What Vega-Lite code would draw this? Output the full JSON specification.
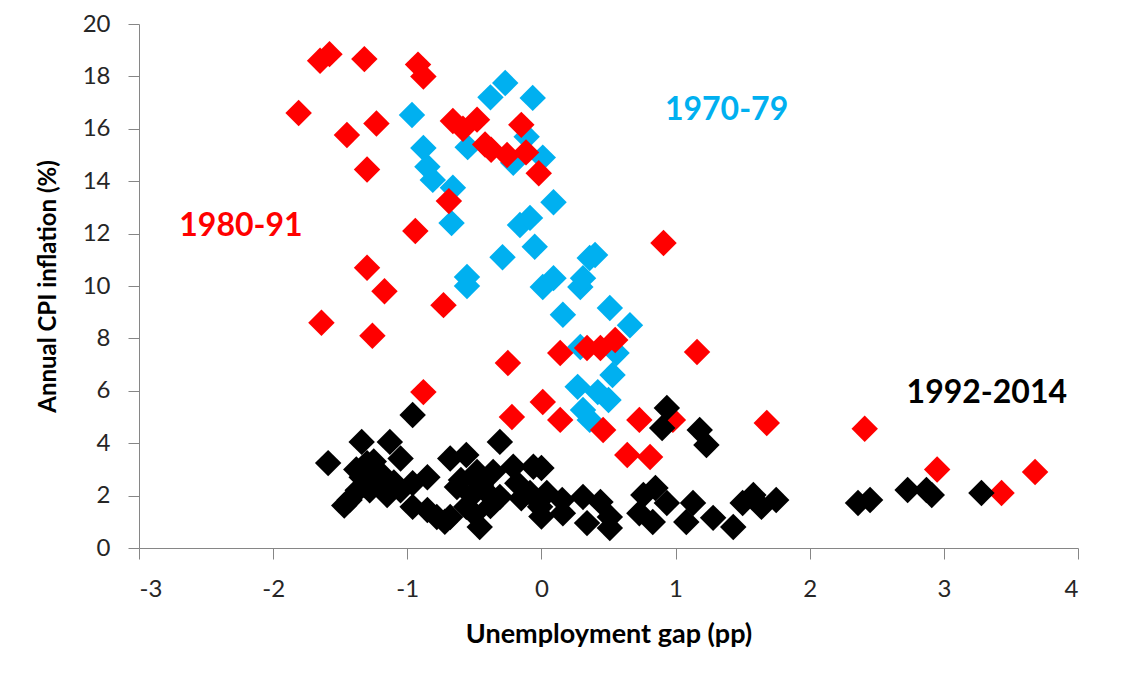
{
  "$schema": "https://vega.github.io/schema/vega-lite/v6.json",
  "width": 939,
  "height": 524,
  "autosize": "none",
  "padding": {"left": 139, "top": 24, "right": 48, "bottom": 127},
  "background": "white",
  "config": {
    "view": {"stroke": null},
    "font": "Lato",
    "axis": {
      "grid": false,
      "domainColor": "#868686",
      "tickColor": "#868686",
      "tickSize": 11,
      "labelFont": "Lato",
      "labelFontSize": 24,
      "labelColor": "#262626",
      "titleFont": "Lato",
      "titleFontSize": 24,
      "titleFontWeight": "bold",
      "titleColor": "#000000"
    }
  },
  "datasets": {
    "points": [
      {"gap": -0.965, "cpi": 16.53, "period": "1970-79"},
      {"gap": -0.88, "cpi": 15.27, "period": "1970-79"},
      {"gap": -0.85, "cpi": 14.55, "period": "1970-79"},
      {"gap": -0.81, "cpi": 14.05, "period": "1970-79"},
      {"gap": -0.38, "cpi": 17.2, "period": "1970-79"},
      {"gap": -0.27, "cpi": 17.75, "period": "1970-79"},
      {"gap": -0.065, "cpi": 17.18, "period": "1970-79"},
      {"gap": -0.66, "cpi": 13.75, "period": "1970-79"},
      {"gap": -0.11, "cpi": 15.7, "period": "1970-79"},
      {"gap": 0.01, "cpi": 14.9, "period": "1970-79"},
      {"gap": -0.21, "cpi": 14.7, "period": "1970-79"},
      {"gap": -0.55, "cpi": 15.3, "period": "1970-79"},
      {"gap": -0.67, "cpi": 12.4, "period": "1970-79"},
      {"gap": 0.09, "cpi": 13.2, "period": "1970-79"},
      {"gap": -0.16, "cpi": 12.33, "period": "1970-79"},
      {"gap": -0.085, "cpi": 12.6, "period": "1970-79"},
      {"gap": -0.29, "cpi": 11.1, "period": "1970-79"},
      {"gap": -0.05, "cpi": 11.5, "period": "1970-79"},
      {"gap": -0.555, "cpi": 10.34, "period": "1970-79"},
      {"gap": -0.555, "cpi": 10.0, "period": "1970-79"},
      {"gap": 0.01, "cpi": 9.96, "period": "1970-79"},
      {"gap": 0.09, "cpi": 10.3, "period": "1970-79"},
      {"gap": 0.29, "cpi": 9.96, "period": "1970-79"},
      {"gap": 0.31, "cpi": 10.3, "period": "1970-79"},
      {"gap": 0.36, "cpi": 11.07, "period": "1970-79"},
      {"gap": 0.4, "cpi": 11.18, "period": "1970-79"},
      {"gap": 0.16, "cpi": 8.9, "period": "1970-79"},
      {"gap": 0.51, "cpi": 9.16, "period": "1970-79"},
      {"gap": 0.66, "cpi": 8.5, "period": "1970-79"},
      {"gap": 0.29, "cpi": 7.67, "period": "1970-79"},
      {"gap": 0.56, "cpi": 7.44, "period": "1970-79"},
      {"gap": 0.53, "cpi": 6.6, "period": "1970-79"},
      {"gap": 0.27, "cpi": 6.15, "period": "1970-79"},
      {"gap": 0.42, "cpi": 5.95, "period": "1970-79"},
      {"gap": 0.5, "cpi": 5.65, "period": "1970-79"},
      {"gap": 0.31, "cpi": 5.27, "period": "1970-79"},
      {"gap": 0.36, "cpi": 4.89, "period": "1970-79"},
      {"gap": -1.81, "cpi": 16.6, "period": "1980-91"},
      {"gap": -1.65, "cpi": 18.6, "period": "1980-91"},
      {"gap": -1.58, "cpi": 18.85, "period": "1980-91"},
      {"gap": -1.32, "cpi": 18.66, "period": "1980-91"},
      {"gap": -1.45, "cpi": 15.76, "period": "1980-91"},
      {"gap": -1.23, "cpi": 16.2, "period": "1980-91"},
      {"gap": -1.3, "cpi": 14.45, "period": "1980-91"},
      {"gap": -0.92, "cpi": 18.45, "period": "1980-91"},
      {"gap": -0.88, "cpi": 18.0, "period": "1980-91"},
      {"gap": -0.94, "cpi": 12.1, "period": "1980-91"},
      {"gap": -1.3, "cpi": 10.7, "period": "1980-91"},
      {"gap": -1.17, "cpi": 9.8, "period": "1980-91"},
      {"gap": -1.64, "cpi": 8.6, "period": "1980-91"},
      {"gap": -1.26, "cpi": 8.1, "period": "1980-91"},
      {"gap": -0.73, "cpi": 9.27, "period": "1980-91"},
      {"gap": -0.69, "cpi": 13.24, "period": "1980-91"},
      {"gap": -0.88, "cpi": 5.95, "period": "1980-91"},
      {"gap": -0.66, "cpi": 16.3, "period": "1980-91"},
      {"gap": -0.585, "cpi": 16.0, "period": "1980-91"},
      {"gap": -0.48, "cpi": 16.35, "period": "1980-91"},
      {"gap": -0.42, "cpi": 15.4, "period": "1980-91"},
      {"gap": -0.375, "cpi": 15.2, "period": "1980-91"},
      {"gap": -0.256, "cpi": 15.0, "period": "1980-91"},
      {"gap": -0.15, "cpi": 16.15, "period": "1980-91"},
      {"gap": -0.115, "cpi": 15.1, "period": "1980-91"},
      {"gap": -0.02, "cpi": 14.3, "period": "1980-91"},
      {"gap": -0.25, "cpi": 7.06, "period": "1980-91"},
      {"gap": -0.22, "cpi": 5.0, "period": "1980-91"},
      {"gap": 0.01, "cpi": 5.57, "period": "1980-91"},
      {"gap": 0.14, "cpi": 4.89, "period": "1980-91"},
      {"gap": 0.14, "cpi": 7.44, "period": "1980-91"},
      {"gap": 0.34, "cpi": 7.63, "period": "1980-91"},
      {"gap": 0.44, "cpi": 7.63, "period": "1980-91"},
      {"gap": 0.55, "cpi": 7.94, "period": "1980-91"},
      {"gap": 0.46, "cpi": 4.5, "period": "1980-91"},
      {"gap": 0.73, "cpi": 4.89, "period": "1980-91"},
      {"gap": 0.98, "cpi": 4.89, "period": "1980-91"},
      {"gap": 0.64, "cpi": 3.55, "period": "1980-91"},
      {"gap": 0.81, "cpi": 3.47, "period": "1980-91"},
      {"gap": 0.91, "cpi": 11.64, "period": "1980-91"},
      {"gap": 1.16, "cpi": 7.48, "period": "1980-91"},
      {"gap": 1.68, "cpi": 4.77, "period": "1980-91"},
      {"gap": 2.41, "cpi": 4.55, "period": "1980-91"},
      {"gap": 2.95, "cpi": 3.0, "period": "1980-91"},
      {"gap": 3.43, "cpi": 2.1, "period": "1980-91"},
      {"gap": 3.68, "cpi": 2.9, "period": "1980-91"},
      {"gap": -1.59, "cpi": 3.24, "period": "1992-2014"},
      {"gap": -0.96, "cpi": 5.08, "period": "1992-2014"},
      {"gap": -1.34, "cpi": 4.05, "period": "1992-2014"},
      {"gap": -1.13, "cpi": 4.05, "period": "1992-2014"},
      {"gap": -1.05, "cpi": 3.42, "period": "1992-2014"},
      {"gap": -1.3, "cpi": 3.24, "period": "1992-2014"},
      {"gap": -1.25, "cpi": 3.3, "period": "1992-2014"},
      {"gap": -1.34, "cpi": 2.7, "period": "1992-2014"},
      {"gap": -1.2, "cpi": 2.85, "period": "1992-2014"},
      {"gap": -1.43, "cpi": 1.83, "period": "1992-2014"},
      {"gap": -1.47, "cpi": 1.62, "period": "1992-2014"},
      {"gap": -1.28, "cpi": 2.2, "period": "1992-2014"},
      {"gap": -1.15, "cpi": 2.02, "period": "1992-2014"},
      {"gap": -1.05, "cpi": 2.2, "period": "1992-2014"},
      {"gap": -0.96, "cpi": 2.47, "period": "1992-2014"},
      {"gap": -0.85, "cpi": 2.7, "period": "1992-2014"},
      {"gap": -0.96, "cpi": 1.57, "period": "1992-2014"},
      {"gap": -0.85, "cpi": 1.45, "period": "1992-2014"},
      {"gap": -1.38, "cpi": 3.0, "period": "1992-2014"},
      {"gap": -1.32, "cpi": 2.4, "period": "1992-2014"},
      {"gap": -1.22, "cpi": 2.6, "period": "1992-2014"},
      {"gap": -1.1, "cpi": 2.5, "period": "1992-2014"},
      {"gap": -1.37, "cpi": 2.2, "period": "1992-2014"},
      {"gap": -0.31, "cpi": 4.05, "period": "1992-2014"},
      {"gap": -0.68, "cpi": 3.42, "period": "1992-2014"},
      {"gap": -0.56, "cpi": 3.55, "period": "1992-2014"},
      {"gap": -0.48, "cpi": 2.9, "period": "1992-2014"},
      {"gap": -0.36, "cpi": 2.9, "period": "1992-2014"},
      {"gap": -0.41, "cpi": 2.14, "period": "1992-2014"},
      {"gap": -0.31, "cpi": 1.95, "period": "1992-2014"},
      {"gap": -0.68, "cpi": 1.18, "period": "1992-2014"},
      {"gap": -0.56, "cpi": 1.57, "period": "1992-2014"},
      {"gap": -0.46, "cpi": 0.8, "period": "1992-2014"},
      {"gap": -0.21, "cpi": 3.1, "period": "1992-2014"},
      {"gap": -0.06, "cpi": 3.1, "period": "1992-2014"},
      {"gap": -0.18, "cpi": 2.47, "period": "1992-2014"},
      {"gap": -0.085, "cpi": 2.1, "period": "1992-2014"},
      {"gap": -0.01, "cpi": 1.57, "period": "1992-2014"},
      {"gap": 0.0, "cpi": 1.2, "period": "1992-2014"},
      {"gap": -0.63, "cpi": 2.33, "period": "1992-2014"},
      {"gap": -0.52, "cpi": 2.0, "period": "1992-2014"},
      {"gap": -0.78, "cpi": 1.18, "period": "1992-2014"},
      {"gap": -0.6, "cpi": 2.6, "period": "1992-2014"},
      {"gap": -0.45, "cpi": 2.4, "period": "1992-2014"},
      {"gap": -0.38, "cpi": 1.6, "period": "1992-2014"},
      {"gap": -0.72, "cpi": 1.0, "period": "1992-2014"},
      {"gap": -0.5, "cpi": 1.3, "period": "1992-2014"},
      {"gap": -0.15, "cpi": 1.9, "period": "1992-2014"},
      {"gap": 0.0, "cpi": 3.05, "period": "1992-2014"},
      {"gap": 0.04, "cpi": 2.1, "period": "1992-2014"},
      {"gap": 0.155, "cpi": 1.83, "period": "1992-2014"},
      {"gap": 0.16, "cpi": 1.33, "period": "1992-2014"},
      {"gap": 0.31, "cpi": 1.95, "period": "1992-2014"},
      {"gap": 0.44, "cpi": 1.76, "period": "1992-2014"},
      {"gap": 0.34, "cpi": 0.95, "period": "1992-2014"},
      {"gap": 0.51, "cpi": 1.18, "period": "1992-2014"},
      {"gap": 0.51, "cpi": 0.76, "period": "1992-2014"},
      {"gap": 0.935, "cpi": 5.34, "period": "1992-2014"},
      {"gap": 0.9, "cpi": 4.58, "period": "1992-2014"},
      {"gap": 1.18, "cpi": 4.5, "period": "1992-2014"},
      {"gap": 1.23, "cpi": 3.93, "period": "1992-2014"},
      {"gap": 0.76, "cpi": 2.02, "period": "1992-2014"},
      {"gap": 0.85, "cpi": 2.29, "period": "1992-2014"},
      {"gap": 0.935, "cpi": 1.72, "period": "1992-2014"},
      {"gap": 0.73, "cpi": 1.33, "period": "1992-2014"},
      {"gap": 0.83, "cpi": 0.99, "period": "1992-2014"},
      {"gap": 1.13, "cpi": 1.72, "period": "1992-2014"},
      {"gap": 1.08, "cpi": 0.99, "period": "1992-2014"},
      {"gap": 1.28, "cpi": 1.15, "period": "1992-2014"},
      {"gap": 1.43, "cpi": 0.8, "period": "1992-2014"},
      {"gap": 1.5, "cpi": 1.72, "period": "1992-2014"},
      {"gap": 1.58, "cpi": 2.02, "period": "1992-2014"},
      {"gap": 1.64, "cpi": 1.57, "period": "1992-2014"},
      {"gap": 1.75, "cpi": 1.83, "period": "1992-2014"},
      {"gap": 2.36, "cpi": 1.72, "period": "1992-2014"},
      {"gap": 2.45, "cpi": 1.83, "period": "1992-2014"},
      {"gap": 2.73, "cpi": 2.21, "period": "1992-2014"},
      {"gap": 2.87, "cpi": 2.21, "period": "1992-2014"},
      {"gap": 2.91, "cpi": 2.02, "period": "1992-2014"},
      {"gap": 3.28, "cpi": 2.1, "period": "1992-2014"}
    ],
    "labels": [
      {"gap": 1.38, "cpi": 16.7, "period": "1970-79"},
      {"gap": -2.24, "cpi": 12.3, "period": "1980-91"},
      {"gap": 3.32, "cpi": 5.9, "period": "1992-2014"}
    ]
  },
  "layer": [
    {
      "data": {"name": "points"},
      "mark": {"type": "point", "shape": "diamond", "filled": true, "size": 700, "opacity": 1},
      "encoding": {
        "x": {"field": "gap", "type": "quantitative", "title": "Unemployment gap (pp)",
              "scale": {"domain": [-3, 4], "nice": false, "zero": false},
              "axis": {"values": [-3, -2, -1, 0, 1, 2, 3, 4], "labelExpr": "'' + datum.value", "labelPadding": 18, "titlePadding": 20, "titleFontSize": 27}},
        "y": {"field": "cpi", "type": "quantitative", "title": "Annual CPI inflation (%)",
              "scale": {"domain": [0, 20], "nice": false},
              "axis": {"values": [0, 2, 4, 6, 8, 10, 12, 14, 16, 18, 20], "labelExpr": "'' + datum.value", "labelPadding": 18, "titlePadding": 22}},
        "color": {"field": "period", "type": "nominal", "legend": null,
                  "scale": {"domain": ["1970-79", "1980-91", "1992-2014"], "range": ["#00B0F0", "#FF0000", "#000000"]}}
      }
    },
    {
      "data": {"name": "labels"},
      "mark": {"type": "text", "font": "Lato", "fontSize": 32, "fontWeight": "bold", "align": "center", "baseline": "middle"},
      "encoding": {
        "x": {"field": "gap", "type": "quantitative"},
        "y": {"field": "cpi", "type": "quantitative"},
        "text": {"field": "period"},
        "color": {"field": "period", "type": "nominal", "legend": null}
      }
    }
  ]
}
